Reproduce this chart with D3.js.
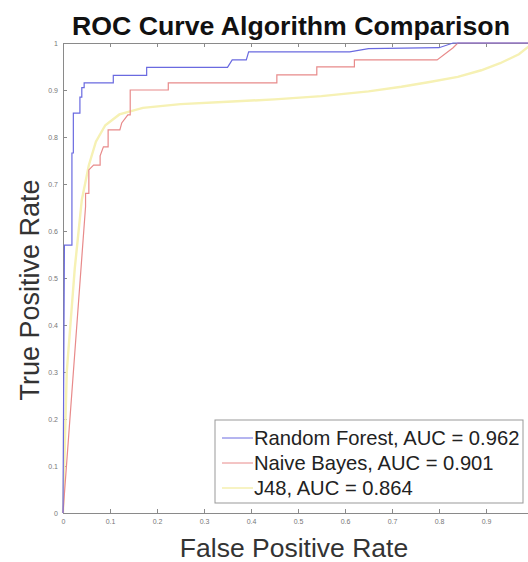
<!DOCTYPE html>
<html>
<head>
<meta charset="utf-8">
<script src="https://cdn.jsdelivr.net/npm/d3@7"></script>
<style>
  body { margin: 0; background: #fff; }
  svg { display: block; font-family: "Liberation Sans", Arial, sans-serif; }
</style>
</head>
<body>
<div id="chart"></div>
<script>
// ROC points, [false positive rate, true positive rate]
const randomForest = [
  [0, 0], [0.003, 0.57], [0.019, 0.57], [0.019, 0.766], [0.022, 0.766], [0.022, 0.851],
  [0.036, 0.851], [0.036, 0.885], [0.04, 0.885], [0.04, 0.905], [0.045, 0.905], [0.045, 0.915],
  [0.107, 0.915], [0.107, 0.931], [0.178, 0.931], [0.178, 0.948], [0.35, 0.948], [0.36, 0.964],
  [0.39, 0.964], [0.395, 0.981], [0.61, 0.981], [0.65, 0.988], [0.8, 0.99], [0.83, 1.0], [1, 1]
];
const naiveBayes = [
  [0, 0], [0.048, 0.652], [0.048, 0.68], [0.055, 0.68], [0.055, 0.73], [0.065, 0.74],
  [0.079, 0.74], [0.079, 0.76], [0.086, 0.779], [0.096, 0.779], [0.096, 0.815], [0.121, 0.815],
  [0.125, 0.83], [0.138, 0.847], [0.143, 0.847], [0.143, 0.9], [0.224, 0.9], [0.224, 0.915],
  [0.455, 0.915], [0.455, 0.932], [0.54, 0.932], [0.54, 0.949], [0.62, 0.949], [0.62, 0.964],
  [0.796, 0.964], [0.83, 0.99], [0.84, 1.0], [1, 1]
];
const j48 = [
  [0, 0], [0.008, 0.3], [0.025, 0.52], [0.04, 0.666], [0.055, 0.74], [0.07, 0.79],
  [0.09, 0.825], [0.12, 0.848], [0.17, 0.862], [0.25, 0.87], [0.35, 0.875], [0.45, 0.88],
  [0.55, 0.887], [0.65, 0.897], [0.72, 0.907], [0.78, 0.917], [0.84, 0.928], [0.89, 0.942],
  [0.93, 0.957], [0.97, 0.976], [1, 1]
];
const seriesNames = ["Random Forest, AUC = 0.962", "Naive Bayes, AUC = 0.901", "J48, AUC = 0.864"];
const seriesColors = ["#6a6ae0", "#e88a8a", "#f6f1b4"];
const tickValues = [0, 0.1, 0.2, 0.3, 0.4, 0.5, 0.6, 0.7, 0.8, 0.9, 1];

const width = 528, height = 562;
const svg = d3.select("#chart").append("svg")
  .attr("width", width)
  .attr("height", height);

// plot box (right edge runs past the window, like the original)
const x = d3.scaleLinear().domain([0, 1]).range([63, 533]);
const y = d3.scaleLinear().domain([0, 1]).range([513, 43]);

const fmt = d => d === 0 ? "0" : d === 1 ? "1" : d3.format(".1f")(d);

function styleAxis(g) {
  g.select(".domain").attr("stroke", "#8a8a8a");
  g.selectAll(".tick line").attr("stroke", "#8a8a8a");
  g.selectAll(".tick text").attr("fill", "#777").style("font-size", "7px");
}

svg.append("g")
  .attr("transform", `translate(0,${y(0)})`)
  // the "1" label falls outside the window in the original
  .call(d3.axisBottom(x).tickValues(tickValues).tickFormat(d => d === 1 ? "" : fmt(d))
    .tickSizeInner(-4).tickSizeOuter(0).tickPadding(6))
  .call(styleAxis);
svg.append("g")
  .attr("transform", `translate(0,${y(1)})`)
  .call(d3.axisTop(x).tickValues(tickValues).tickFormat("").tickSizeInner(-4).tickSizeOuter(0))
  .call(styleAxis);
svg.append("g")
  .attr("transform", `translate(${x(0)},0)`)
  .call(d3.axisLeft(y).tickValues(tickValues).tickFormat(fmt).tickSizeInner(-4).tickSizeOuter(0).tickPadding(5))
  .call(styleAxis);
svg.append("g")
  .attr("transform", `translate(${x(1)},0)`)
  .call(d3.axisRight(y).tickValues(tickValues).tickFormat("").tickSizeInner(-4).tickSizeOuter(0))
  .call(styleAxis);

const line = d3.line().x(d => x(d[0])).y(d => y(d[1]));

// yellow first so the others sit on top
[j48, naiveBayes, randomForest].forEach((data, i) => {
  const idx = 2 - i;
  svg.append("path")
    .datum(data)
    .attr("fill", "none")
    .attr("stroke", seriesColors[idx])
    .attr("stroke-width", idx === 2 ? 2.4 : 1.2)
    .attr("d", line);
});

// title and axis labels
svg.append("text")
  .attr("x", 291).attr("y", 35)
  .attr("text-anchor", "middle")
  .style("font-size", "26.7px").style("font-weight", "bold")
  .attr("fill", "#111")
  .text("ROC Curve Algorithm Comparison");

svg.append("text")
  .attr("x", 294).attr("y", 557)
  .attr("text-anchor", "middle")
  .style("font-size", "26.5px")
  .attr("fill", "#333")
  .text("False Positive Rate");

svg.append("text")
  .attr("transform", "translate(39,290) rotate(-90)")
  .attr("text-anchor", "middle")
  .style("font-size", "27px")
  .attr("fill", "#333")
  .text("True Positive Rate");

// legend
const legend = svg.append("g").attr("transform", "translate(215,420)");
legend.append("rect")
  .attr("width", 308).attr("height", 83)
  .attr("fill", "#fff").attr("stroke", "#999");
seriesNames.forEach((name, i) => {
  const yy = 18 + i * 25;
  legend.append("line")
    .attr("x1", 7).attr("x2", 38).attr("y1", yy).attr("y2", yy)
    .attr("stroke", seriesColors[i]).attr("stroke-width", i === 2 ? 1.6 : 1);
  legend.append("text")
    .attr("x", 39).attr("y", yy + 7)
    .style("font-size", "20.2px")
    .attr("fill", "#222")
    .text(name);
});
</script>
</body>
</html>
